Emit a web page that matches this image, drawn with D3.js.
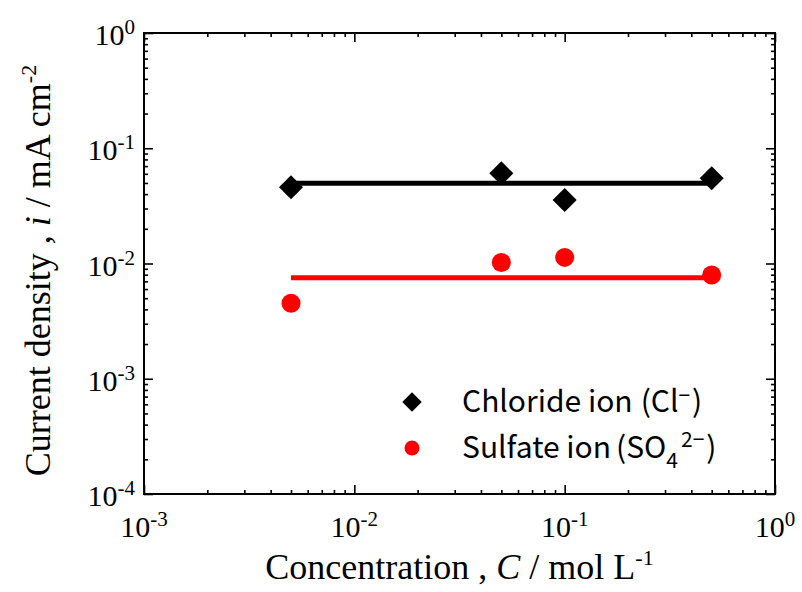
<!DOCTYPE html>
<html>
<head>
<meta charset="utf-8">
<script src="https://cdn.jsdelivr.net/npm/d3@7"></script>
<style>
  body { margin: 0; background: #fff; }
  svg text { fill: #000; }
</style>
</head>
<body>
<div id="chart"></div>
<script>
// data
const concentration = [0.005, 0.05, 0.1, 0.5];
const chlorideCurrent = [0.0458, 0.0606, 0.0356, 0.0549];
const sulfateCurrent = [0.00452, 0.0102, 0.0113, 0.00795];
const fitRange = [0.005, 0.5];
const chlorideFit = [0.0496, 0.0496];
const sulfateFit = [0.00753, 0.00753];
const xTickExps = [-3, -2, -1, 0];
const yTickExps = [-4, -3, -2, -1, 0];
const legendNames = ["Chloride ion", "Sulfate ion"];

const W = 802, H = 592;
const margin = { top: 33, right: 27, bottom: 98, left: 144 };
const width = W - margin.left - margin.right,
    height = H - margin.top - margin.bottom;

const svg = d3.select("#chart").append("svg")
    .attr("width", W)
    .attr("height", H);

const g = svg.append("g")
    .attr("transform", "translate(" + margin.left + "," + margin.top + ")");

const x = d3.scaleLog().domain([1e-3, 1]).range([0, width]);
const y = d3.scaleLog().domain([1e-4, 1]).range([height, 0]);

// minor ticks 2..9 in each decade
function minorTicks(exps) {
    const out = [];
    for (let i = 0; i < exps.length - 1; i++) {
        for (let m = 2; m <= 9; m++) out.push(m * Math.pow(10, exps[i]));
    }
    return out;
}
const xMajor = xTickExps.map(e => Math.pow(10, e));
const yMajor = yTickExps.map(e => Math.pow(10, e));

function tickAxis(axisFn, scale, values, size, transform) {
    const a = g.append("g")
        .attr("transform", transform)
        .call(axisFn(scale).tickValues(values).tickSize(-size).tickFormat(""));
    a.select(".domain").remove();
    a.selectAll("line").attr("stroke", "#000").attr("stroke-width", 1.6);
}
// ticks on all four sides, pointing in
tickAxis(d3.axisBottom, x, xMajor, 9, "translate(0," + height + ")");
tickAxis(d3.axisBottom, x, minorTicks(xTickExps), 4, "translate(0," + height + ")");
tickAxis(d3.axisTop, x, xMajor, 9, "translate(0,0)");
tickAxis(d3.axisTop, x, minorTicks(xTickExps), 4, "translate(0,0)");
tickAxis(d3.axisLeft, y, yMajor, 9, "translate(0,0)");
tickAxis(d3.axisLeft, y, minorTicks(yTickExps), 4, "translate(0,0)");
tickAxis(d3.axisRight, y, yMajor, 9, "translate(" + width + ",0)");
tickAxis(d3.axisRight, y, minorTicks(yTickExps), 4, "translate(" + width + ",0)");

g.append("rect")
    .attr("width", width)
    .attr("height", height)
    .attr("fill", "none")
    .attr("stroke", "#000")
    .attr("stroke-width", 2);

// tick labels 10^n
const serif = "'Liberation Serif', 'Times New Roman', serif";
g.selectAll(".xlab")
    .data(xTickExps)
    .enter().append("text")
    .attr("class", "xlab")
    .attr("x", d => x(Math.pow(10, d)))
    .attr("y", height + 43)
    .attr("text-anchor", "middle")
    .style("font-family", serif)
    .style("font-size", "30px")
    .each(function (d) {
        const t = d3.select(this);
        t.append("tspan").text("10");
        t.append("tspan").attr("dy", -11).style("font-size", "21px").text(d);
    });

g.selectAll(".ylab")
    .data(yTickExps)
    .enter().append("text")
    .attr("class", "ylab")
    .attr("x", -9)
    .attr("y", d => y(Math.pow(10, d)) + 12)
    .attr("text-anchor", "end")
    .style("font-family", serif)
    .style("font-size", "30px")
    .each(function (d) {
        const t = d3.select(this);
        t.append("tspan").text("10");
        t.append("tspan").attr("dy", -11).style("font-size", "21px").text(d);
    });

// axis titles
const xt = svg.append("text")
    .attr("x", margin.left + width / 2)
    .attr("y", 579)
    .attr("text-anchor", "middle")
    .style("font-family", serif)
    .style("font-size", "36px");
xt.append("tspan").text("Concentration , ");
xt.append("tspan").style("font-style", "italic").text("C");
xt.append("tspan").text(" / mol L");
xt.append("tspan").attr("dy", -14).style("font-size", "22px").text("-1");

const yt = svg.append("text")
    .attr("transform", "translate(50," + (margin.top + height / 2 + 7) + ") rotate(-90)")
    .attr("text-anchor", "middle")
    .style("font-family", serif)
    .style("font-size", "36px");
yt.append("tspan").text("Current density , ");
yt.append("tspan").style("font-style", "italic").text("i");
yt.append("tspan").text(" / mA cm");
yt.append("tspan").attr("dy", -14).style("font-size", "22px").text("-2");

// fit lines
const line = d3.line().x(d => x(d[0])).y(d => y(d[1]));
g.append("path")
    .datum(d3.zip(fitRange, chlorideFit))
    .attr("d", line)
    .attr("fill", "none")
    .attr("stroke", "#000")
    .attr("stroke-width", 5);
g.append("path")
    .datum(d3.zip(fitRange, sulfateFit))
    .attr("d", line)
    .attr("fill", "none")
    .attr("stroke", "#ff0000")
    .attr("stroke-width", 5);

// markers
const diamond = d3.symbol().type(d3.symbolSquare).size(289);
g.selectAll(".cl")
    .data(d3.zip(concentration, chlorideCurrent))
    .enter().append("path")
    .attr("class", "cl")
    .attr("d", diamond)
    .attr("transform", d => "translate(" + x(d[0]) + "," + y(d[1]) + ") rotate(45)")
    .attr("fill", "#000");

g.selectAll(".so4")
    .data(d3.zip(concentration, sulfateCurrent))
    .enter().append("circle")
    .attr("class", "so4")
    .attr("cx", d => x(d[0]))
    .attr("cy", d => y(d[1]))
    .attr("r", 9.5)
    .attr("fill", "#ff0000");

// legend
const sans = "'Noto Sans CJK JP', 'Noto Sans', sans-serif";
svg.append("path")
    .attr("d", d3.symbol().type(d3.symbolSquare).size(190))
    .attr("transform", "translate(412,402) rotate(45)")
    .attr("fill", "#000");
svg.append("circle")
    .attr("cx", 412).attr("cy", 448).attr("r", 7.5)
    .attr("fill", "#ff0000");

const l1 = svg.append("text")
    .attr("x", 462).attr("y", 412)
    .style("font-family", sans)
    .style("font-size", "30px");
l1.append("tspan").text(legendNames[0]);
l1.append("tspan").attr("dx", 8).text("(Cl");
l1.append("tspan").attr("dy", -9).style("font-size", "21px").text("\u2212");
l1.append("tspan").attr("dy", 9).attr("dx", 2).text(")");

const l2 = svg.append("text")
    .attr("x", 462).attr("y", 457.5)
    .style("font-family", sans)
    .style("font-size", "30px");
l2.append("tspan").text(legendNames[1]);
l2.append("tspan").attr("dx", 5).text("(SO");
l2.append("tspan").attr("dy", 10.5).style("font-size", "21px").text("4");
l2.append("tspan").attr("dy", -21).attr("dx", 3).style("font-size", "21px").text("2\u2212");
l2.append("tspan").attr("dy", 10.5).attr("dx", 2).text(")");
</script>
</body>
</html>
